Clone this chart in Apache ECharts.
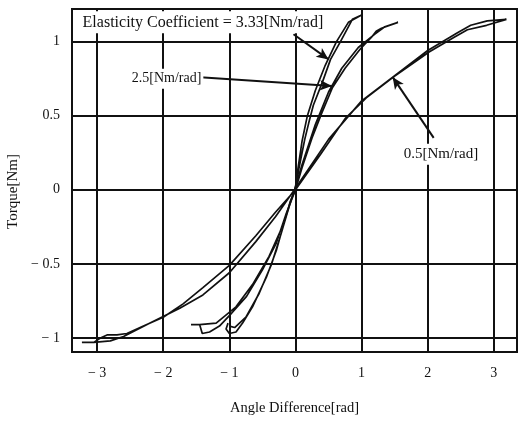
<!DOCTYPE html>
<html>
<head>
<meta charset="utf-8">
<script src="https://cdn.jsdelivr.net/npm/echarts@6/dist/echarts.min.js"></script>
<style>
  html, body { margin: 0; padding: 0; background: #fff; }
  #chart { width: 523px; height: 421px; }
</style>
</head>
<body>
<div id="chart"></div>
<script>
const xTicks = [-3, -2, -1, 0, 1, 2, 3];
const yTicks = [-1, -0.5, 0, 0.5, 1];

// elasticity 0.5 Nm/rad : loading branch then return branch
const curve05 = [
  [-3.23, -1.03], [-3.05, -1.03], [-2.95, -1.0], [-2.85, -0.98], [-2.7, -0.98],
  [-2.55, -0.97], [-2.3, -0.92], [-2.0, -0.86], [-1.7, -0.77], [-1.4, -0.66],
  [-1.0, -0.51], [-0.6, -0.31], [-0.3, -0.15], [0, 0], [0.38, 0.24], [0.75, 0.48],
  [1.07, 0.62], [1.48, 0.76], [2.02, 0.93], [2.4, 1.03], [2.6, 1.08], [2.89, 1.11],
  [3.19, 1.15],
  [2.9, 1.14], [2.65, 1.11], [2.45, 1.06], [2.0, 0.94], [1.5, 0.77], [1.0, 0.6],
  [0.5, 0.34], [0, 0.01], [-0.3, -0.18], [-0.6, -0.35], [-1.0, -0.56], [-1.4, -0.71],
  [-1.75, -0.8], [-2.2, -0.9], [-2.6, -0.99], [-2.8, -1.02], [-3.05, -1.03]
];

// elasticity 2.5 Nm/rad
const curve25 = [
  [-1.58, -0.91], [-1.45, -0.91], [-1.41, -0.97], [-1.3, -0.96], [-1.15, -0.92],
  [-1.0, -0.85], [-0.74, -0.72], [-0.5, -0.54], [-0.29, -0.36], [-0.14, -0.16],
  [0, 0], [0.1, 0.15], [0.25, 0.35], [0.4, 0.52], [0.56, 0.69], [0.75, 0.82],
  [0.98, 0.95], [1.15, 1.03], [1.22, 1.07], [1.3, 1.09], [1.55, 1.13],
  [1.35, 1.1], [1.2, 1.05], [0.95, 0.96], [0.7, 0.82], [0.5, 0.66], [0.3, 0.44],
  [0.1, 0.17], [0, 0.02], [-0.2, -0.25], [-0.4, -0.45], [-0.65, -0.64],
  [-0.9, -0.79], [-1.2, -0.9], [-1.45, -0.91]
];

// elasticity 3.33 Nm/rad
const curve333 = [
  [-1.02, -0.9], [-1.05, -0.94], [-1.0, -0.97], [-0.9, -0.96], [-0.8, -0.9],
  [-0.65, -0.79], [-0.44, -0.59], [-0.29, -0.41], [-0.17, -0.22], [-0.08, -0.08],
  [0, 0], [0.05, 0.14], [0.14, 0.34], [0.2, 0.45], [0.27, 0.57], [0.41, 0.73],
  [0.53, 0.88], [0.68, 1.0], [0.86, 1.15], [1.0, 1.18],
  [0.8, 1.13], [0.62, 1.0], [0.45, 0.84], [0.3, 0.67], [0.18, 0.5], [0.1, 0.33],
  [0.03, 0.12], [0, 0.02], [-0.1, -0.12], [-0.22, -0.3], [-0.36, -0.5],
  [-0.55, -0.7], [-0.75, -0.86], [-0.92, -0.93], [-1.0, -0.92]
];

// annotation arrows [from, to] and label anchors, in data units
const arrow333 = [[-0.03, 1.05], [0.5, 0.88]];
const arrow25 = [[-1.44, 0.76], [0.55, 0.7]];
const arrow05 = [[2.09, 0.35], [1.47, 0.76]];
const label333 = [-3.25, 1.13];
const label25 = [-1.95, 0.75];
const label05 = [2.2, 0.24];

const serif = "'Liberation Serif', 'DejaVu Serif', serif";
const ink = "#111";

function fmt(v) {
  return v < 0 ? "\u2212 " + Math.abs(v) : String(v);
}

function arrowLine(pair) {
  return [{ coord: pair[0], symbol: "none" }, { coord: pair[1], symbol: "arrow" }];
}

function curveSeries(name, data, arrow) {
  return {
    name: name,
    type: "line",
    data: data,
    showSymbol: false,
    silent: true,
    lineStyle: { color: ink, width: 1.7 },
    markLine: {
      silent: true,
      symbolSize: [8, 12],
      label: { show: false },
      lineStyle: { color: ink, width: 2, type: "solid" },
      data: [arrowLine(arrow)],
    },
  };
}

const chart = echarts.init(document.getElementById("chart"));

chart.setOption({
  animation: false,
  backgroundColor: "#fff",
  grid: {
    left: 72,
    right: 6,
    top: 9,
    bottom: 69,
    outerBoundsMode: "none",
    show: true,
    borderColor: ink,
    borderWidth: 2,
  },
  xAxis: {
    type: "value",
    min: -3.38,
    max: 3.35,
    name: "Angle Difference[rad]",
    nameLocation: "middle",
    nameGap: 49,
    nameTextStyle: { fontFamily: serif, fontSize: 14.5, color: ink },
    axisLine: { show: false },
    axisTick: { show: false, customValues: xTicks },
    axisLabel: {
      customValues: xTicks,
      formatter: fmt,
      margin: 14,
      fontFamily: serif,
      fontSize: 14,
      color: ink,
    },
    splitLine: { show: true, lineStyle: { color: ink, width: 2 } },
  },
  yAxis: {
    type: "value",
    min: -1.095,
    max: 1.22,
    name: "Torque[Nm]",
    nameLocation: "middle",
    nameGap: 51,
    nameTextStyle: { fontFamily: serif, fontSize: 15, color: ink, padding: [0, 22, 0, 0] },
    axisLine: { show: false },
    axisTick: { show: false, customValues: yTicks },
    axisLabel: {
      customValues: yTicks,
      formatter: fmt,
      margin: 12,
      fontFamily: serif,
      fontSize: 14,
      color: ink,
    },
    splitLine: { show: true, lineStyle: { color: ink, width: 2 } },
  },
  series: [
    curveSeries("0.5", curve05, arrow05),
    curveSeries("2.5", curve25, arrow25),
    curveSeries("3.33", curve333, arrow333),
  ],
});

function textAt(coord, text, size, align, bg) {
  const p = chart.convertToPixel({ gridIndex: 0 }, coord);
  return {
    type: "text",
    x: p[0],
    y: p[1],
    z: 100,
    style: {
      text: text,
      fill: ink,
      font: size + "px " + serif,
      align: align,
      verticalAlign: "middle",
      backgroundColor: bg ? "#fff" : null,
      padding: bg ? [3, 2] : 0,
    },
  };
}

chart.setOption({
  graphic: [
    textAt(label333, "Elasticity Coefficient = 3.33[Nm/rad]", 16, "left", true),
    textAt(label25, "2.5[Nm/rad]", 14, "center", true),
    textAt(label05, "0.5[Nm/rad]", 15, "center", true),
  ],
});
</script>
</body>
</html>
